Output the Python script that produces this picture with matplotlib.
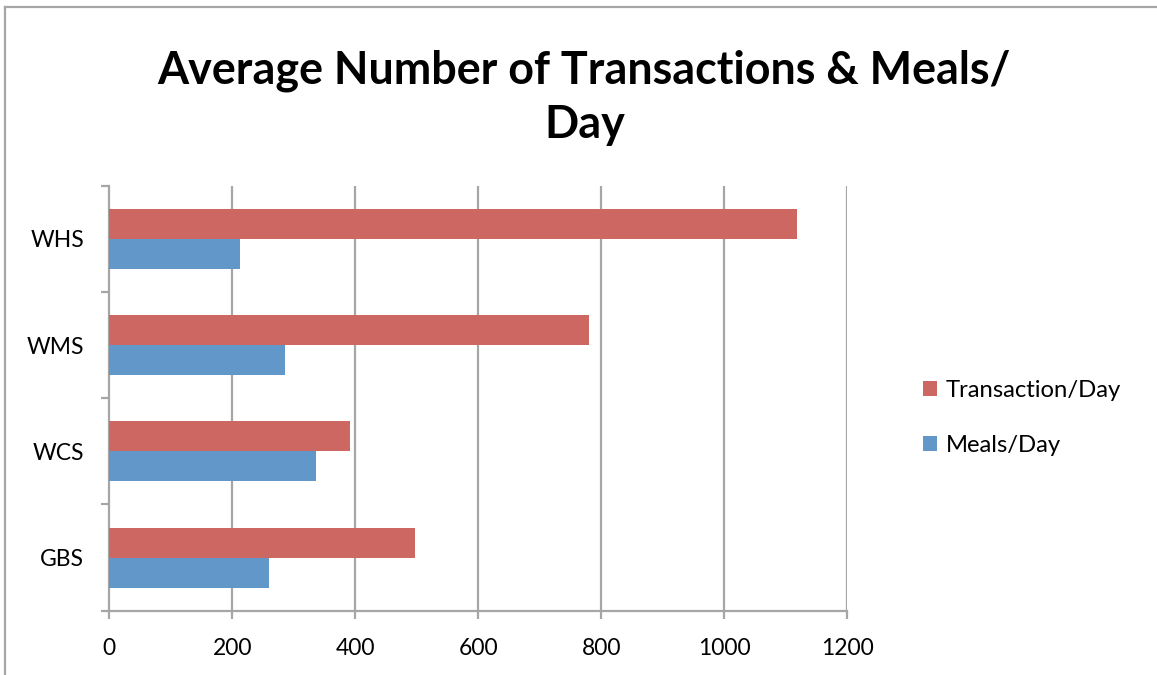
import matplotlib
matplotlib.use("Agg")
import matplotlib.pyplot as plt
from matplotlib.lines import Line2D
import numpy as np

categories = ["GBS", "WCS", "WMS", "WHS"]
transactions = [497, 392, 780, 1118]
meals = [260, 336, 285, 212]
x_ticks = [0, 200, 400, 600, 800, 1000, 1200]
series_names = ["Transaction/Day", "Meals/Day"]

RED = "#CD6761"
BLUE = "#6297C9"
GRID = "#A6A6A6"

plt.rcParams["font.family"] = ["Lato", "DejaVu Sans"]

fig = plt.figure(figsize=(11.57, 6.75), dpi=100)
W, H = 1157, 675
ax = fig.add_axes([109.3 / W, 1 - 610.7 / H, (847.3 - 109.3) / W, (610.7 - 185.7) / H])

y = np.arange(len(categories))
bh = 0.2824
ax.barh(y + bh / 2, transactions, height=bh, color=RED, label=series_names[0], zorder=3)
ax.barh(y - bh / 2, meals, height=bh, color=BLUE, label=series_names[1], zorder=3)

ax.set_xlim(0, 1200)
ax.set_ylim(-0.5, len(categories) - 0.5)
ax.set_xticks(x_ticks)
ax.set_xticklabels([str(v) for v in x_ticks])
ax.set_yticks(y)
ax.set_yticklabels(categories)
ax.set_yticks(np.arange(-0.5, len(categories)), minor=True)

for s in ["top", "right"]:
    ax.spines[s].set_visible(False)
for s in ["left", "bottom"]:
    ax.spines[s].set_color(GRID)
    ax.spines[s].set_linewidth(1.6)

ax.tick_params(axis="y", which="major", length=0, pad=18, labelsize=16.5, labelcolor="black")
ax.tick_params(axis="y", which="minor", length=6, width=1.6, color=GRID, direction="out")
ax.tick_params(axis="x", which="major", length=6, width=1.6, color=GRID, direction="out",
               pad=14, labelsize=16.5, labelcolor="black")

for v in x_ticks[1:]:
    ax.axvline(v, color=GRID, linewidth=1.6, zorder=1)

fig.suptitle("Average Number of Transactions & Meals/\nDay", x=0.505, y=1 - 49 / H,
             fontsize=32.3, fontweight="bold", linespacing=1.36, va="top")

leg = fig.legend(loc="center left", bbox_to_anchor=(901 / W, 1 - 418 / H),
                 frameon=False, fontsize=17.2, handlelength=0.62, handleheight=0.62,
                 handletextpad=0.35, labelspacing=1.42)

fig.add_artist(Line2D([5.5 / W, 1.0], [1 - 6.5 / H, 1 - 6.5 / H], color=GRID, linewidth=1.6,
                      transform=fig.transFigure))
fig.add_artist(Line2D([5.5 / W, 5.5 / W], [0, 1 - 6.5 / H], color=GRID, linewidth=1.6,
                      transform=fig.transFigure))

fig.savefig("out.png", dpi=100)
